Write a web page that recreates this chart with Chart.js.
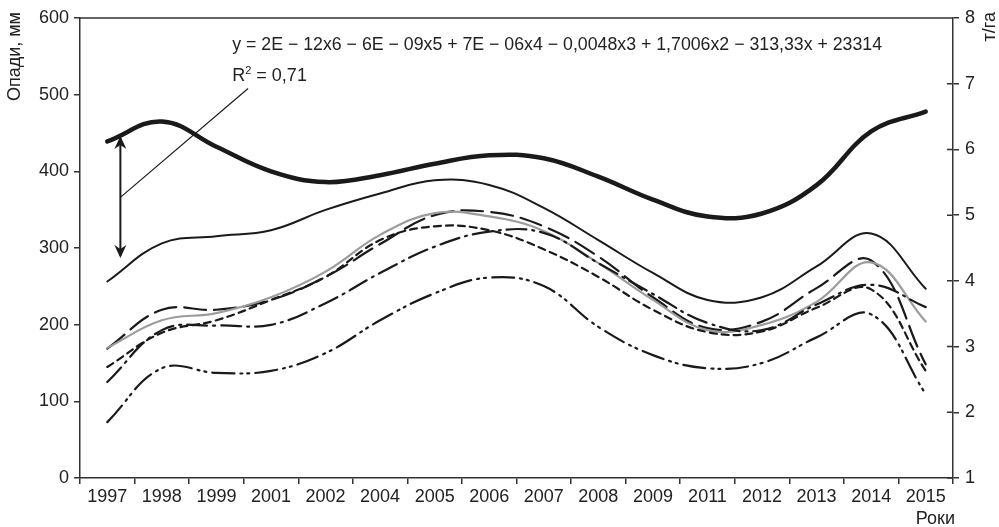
<!DOCTYPE html>
<html lang="uk">
<head>
    <meta charset="UTF-8">
    <title>Опади та врожайність</title>
    <script src="https://cdn.jsdelivr.net/npm/chart.js"></script>
    <style>
        body { margin: 0; background: white; }
        #chart { display: block; }
    </style>
</head>
<body>
    <canvas id="chart" width="999" height="527"></canvas>

    <script>
        const years = ['1997', '1998', '1999', '2001', '2002', '2004', '2005', '2006',
                       '2007', '2008', '2009', '2011', '2012', '2013', '2014', '2015'];

        // опади, мм (ліва вісь)
        const precipitation = [439, 465, 432, 400, 386, 395, 410, 421, 417, 393, 363, 341, 345, 382, 452, 478];

        // врожайність, т/га (права вісь)
        const yieldSolid      = [3.99, 4.57, 4.68, 4.77, 5.08, 5.33, 5.53, 5.46, 5.11, 4.62, 4.12, 3.71, 3.75, 4.22, 4.72, 3.88];
        const yieldLongDash   = [2.97, 3.56, 3.56, 3.71, 4.06, 4.56, 5.00, 5.05, 4.83, 4.37, 3.75, 3.28, 3.38, 3.89, 4.31, 2.73];
        const yieldGray       = [2.98, 3.40, 3.51, 3.75, 4.14, 4.70, 5.03, 4.98, 4.76, 4.27, 3.71, 3.25, 3.33, 3.68, 4.28, 3.38];
        const yieldShortDash  = [2.69, 3.21, 3.40, 3.71, 4.06, 4.62, 4.83, 4.77, 4.48, 4.06, 3.56, 3.22, 3.23, 3.59, 3.87, 2.63];
        const yieldDashDot    = [2.46, 3.25, 3.32, 3.33, 3.66, 4.12, 4.52, 4.75, 4.73, 4.27, 3.80, 3.36, 3.25, 3.64, 3.94, 3.60];
        const yieldDashDotDot = [1.85, 2.67, 2.60, 2.63, 2.90, 3.40, 3.81, 4.05, 3.92, 3.30, 2.87, 2.67, 2.75, 3.14, 3.49, 2.28];

        const equationText = 'y = 2E \u2212 12x6 \u2212 6E \u2212 09x5 + 7E \u2212 06x4 \u2212 0,0048x3 + 1,7006x2 \u2212 313,33x + 23314';

        const FONT = '"Liberation Sans", Arial, sans-serif';
        const INK = '#222';
        const AXIS = '#333';

        function line(data, axis, color, width, dash) {
            return {
                data: data,
                yAxisID: axis,
                borderColor: color,
                borderWidth: width,
                borderDash: dash,
                borderCapStyle: 'round',
                pointRadius: 0,
                tension: 0.4,
                fill: false
            };
        }

        // рамка, підписи осей, рівняння тренду і стрілка
        const extras = {
            id: 'extras',
            afterDraw(chart) {
                const ctx = chart.ctx;
                const x = chart.scales.x, y = chart.scales.y, y2 = chart.scales.y2;
                const area = chart.chartArea;
                const catW = x.getPixelForValue(1) - x.getPixelForValue(0);
                const px = f => x.getPixelForValue(0) + f * catW;

                ctx.save();
                ctx.strokeStyle = AXIS;
                ctx.lineWidth = 1.5;
                ctx.beginPath();
                ctx.moveTo(area.left, area.top);
                ctx.lineTo(area.right, area.top);
                // внутрішні засічки правої осі
                y2.ticks.forEach(t => {
                    const ty = y2.getPixelForValue(t.value);
                    ctx.moveTo(area.right - 6, ty);
                    ctx.lineTo(area.right, ty);
                });
                ctx.stroke();

                ctx.fillStyle = INK;
                ctx.font = '18px ' + FONT;

                // назви осей
                ctx.save();
                ctx.translate(15, 12);
                ctx.rotate(-Math.PI / 2);
                ctx.textAlign = 'right';
                ctx.textBaseline = 'middle';
                ctx.fillText('Опади, мм', 0, 0);
                ctx.restore();

                ctx.save();
                ctx.translate(990, 12);
                ctx.rotate(-Math.PI / 2);
                ctx.textAlign = 'right';
                ctx.textBaseline = 'middle';
                ctx.fillText('т/га', 0, 0);
                ctx.restore();

                ctx.textAlign = 'right';
                ctx.textBaseline = 'alphabetic';
                ctx.fillText('Роки', area.right + 2, chart.height - 3);

                // рівняння тренду
                ctx.textAlign = 'left';
                const eqX = px(2.29);
                const eqW = px(14.2) - eqX;
                ctx.fillText(equationText, eqX, y.getPixelForValue(558), eqW);

                const rY = y.getPixelForValue(518);
                ctx.fillText('R', eqX, rY);
                const rW = ctx.measureText('R').width;
                ctx.font = '11px ' + FONT;
                ctx.fillText('2', eqX + rW, rY - 7);
                const sW = ctx.measureText('2').width;
                ctx.font = '18px ' + FONT;
                ctx.fillText(' = 0,71', eqX + rW + sW, rY);

                // двостороння стрілка і виноска
                const ax = px(0.24);
                const aTop = y.getPixelForValue(446);
                const aBot = y.getPixelForValue(287);
                ctx.strokeStyle = '#1a1a1a';
                ctx.lineWidth = 2;
                ctx.beginPath();
                ctx.moveTo(ax, aTop + 2);
                ctx.lineTo(ax, aBot - 2);
                ctx.stroke();
                ctx.fillStyle = '#1a1a1a';
                [[aTop, 1], [aBot, -1]].forEach(([tip, dir]) => {
                    ctx.beginPath();
                    ctx.moveTo(ax, tip);
                    ctx.lineTo(ax - 6, tip + dir * 13);
                    ctx.lineTo(ax, tip + dir * 9);
                    ctx.lineTo(ax + 6, tip + dir * 13);
                    ctx.closePath();
                    ctx.fill();
                });
                ctx.lineWidth = 1.2;
                ctx.beginPath();
                ctx.moveTo(ax, y.getPixelForValue(366));
                ctx.lineTo(px(2.58), y.getPixelForValue(508));
                ctx.stroke();
                ctx.restore();
            }
        };

        const tickFont = { family: FONT, size: 18 };

        new Chart(document.getElementById('chart'), {
            type: 'line',
            data: {
                labels: years,
                datasets: [
                    line(yieldDashDotDot, 'y2', '#1a1a1a', 2.2, [22, 6, 2, 5, 2, 6]),
                    line(yieldDashDot, 'y2', '#1a1a1a', 2.2, [20, 6, 2, 6]),
                    line(yieldShortDash, 'y2', '#1a1a1a', 2.2, [7, 5]),
                    line(yieldGray, 'y2', '#9c9c9c', 2.2, []),
                    line(yieldLongDash, 'y2', '#1a1a1a', 2.2, [22, 8]),
                    line(yieldSolid, 'y2', '#1a1a1a', 2, []),
                    line(precipitation, 'y', '#1a1a1a', 4.5, [])
                ]
            },
            options: {
                responsive: false,
                animation: false,
                layout: { padding: { top: 18, left: 0, right: 0, bottom: 0 } },
                plugins: {
                    legend: { display: false },
                    tooltip: { enabled: false }
                },
                scales: {
                    x: {
                        offset: true,
                        grid: { offset: true, drawOnChartArea: false, tickLength: 6, color: AXIS, lineWidth: 1.5 },
                        border: { color: AXIS, width: 1.5 },
                        ticks: { font: tickFont, color: INK, maxRotation: 0, autoSkip: false, padding: 2 },
                        afterFit: s => { s.height = 49; }
                    },
                    y: {
                        position: 'left',
                        min: 0,
                        max: 600,
                        grid: { drawOnChartArea: false, tickLength: 6, color: AXIS, lineWidth: 1.5 },
                        border: { color: AXIS, width: 1.5 },
                        ticks: { stepSize: 100, font: tickFont, color: INK, padding: 5 },
                        afterFit: s => { s.width = 80; }
                    },
                    y2: {
                        position: 'right',
                        min: 1,
                        max: 8,
                        grid: { drawOnChartArea: false, tickLength: 6, color: AXIS, lineWidth: 1.5 },
                        border: { color: AXIS, width: 1.5 },
                        ticks: { stepSize: 1, font: tickFont, color: INK, padding: 6 },
                        afterFit: s => { s.width = 46; }
                    }
                }
            },
            plugins: [extras]
        });
    </script>
</body>
</html>
